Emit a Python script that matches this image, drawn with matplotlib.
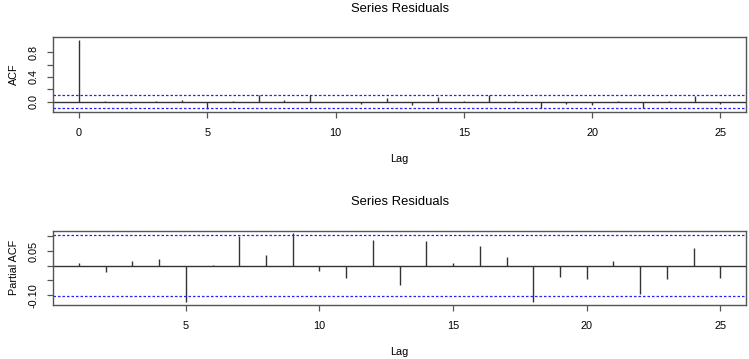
import numpy as np
import matplotlib
matplotlib.use("Agg")
import matplotlib.pyplot as plt

plt.rcParams['font.family'] = ['Liberation Sans', 'DejaVu Sans']

title = "Series Residuals"
n_obs = 360

acf_lags = list(range(0, 26))
acf_vals = [1.0, 0.008, -0.020, 0.012, 0.022, -0.125, 0.002, 0.100, 0.033, 0.100,
            -0.015, -0.035, 0.065, -0.058, 0.066, 0.010, 0.105, 0.008, -0.100,
            -0.040, -0.050, 0.010, -0.110, 0.008, 0.093, -0.040]

pacf_lags = list(range(1, 26))
pacf_vals = [0.008, -0.020, 0.016, 0.024, -0.124, 0.001, 0.101, 0.037, 0.110,
             -0.018, -0.041, 0.087, -0.067, 0.086, 0.011, 0.067, 0.031, -0.123,
             -0.038, -0.045, 0.016, -0.096, -0.045, 0.060, -0.042]

acf_yticks = [0.0, 0.2, 0.4, 0.6, 0.8]
acf_ylabels = ["0.0", "", "0.4", "", "0.8"]
pacf_yticks = [-0.10, -0.05, 0.0, 0.05, 0.10]
pacf_ylabels = ["-0.10", "", "", "0.05", ""]
acf_xticks = [0, 5, 10, 15, 20, 25]
pacf_xticks = [5, 10, 15, 20, 25]

clim = 1.96 / np.sqrt(n_obs)

W, H = 749, 359
fig = plt.figure(figsize=(W / 100, H / 100), dpi=100)

def px_axes(l, r, t, b):
    return fig.add_axes([l / W, 1 - b / H, (r - l) / W, (b - t) / H])

ax1 = px_axes(53.3, 746, 37.3, 112.0)
ax2 = px_axes(53.3, 746, 230.7, 305.0)

def rlim(lo, hi):
    e = 0.04 * (hi - lo)
    return lo - e, hi + e

bar_col = '#333333'
box_col = '#555555'
fs = 7.8

def style(ax, x, y, xticks, yticks, ylabels, ylab):
    ax.vlines(x, 0, y, colors=bar_col, linewidth=1.0)
    ax.axhline(0, color=bar_col, linewidth=1.0)
    for c in (clim, -clim):
        ax.axhline(c, color='#2222ff', linewidth=0.9, linestyle=(0, (2.0, 1.6)))
    ax.set_xlim(*rlim(min(x), max(x)))
    ax.set_ylim(*rlim(min(min(y), -clim), max(max(y), clim)))
    ax.set_xticks(xticks)
    ax.set_xticklabels([str(t) for t in xticks])
    ax.set_yticks(yticks)
    ax.set_yticklabels(ylabels, rotation=90, va='center')
    ax.tick_params(axis='both', length=4.3, width=0.9, color=box_col,
                   labelsize=fs)
    ax.tick_params(axis='x', pad=7)
    ax.tick_params(axis='y', pad=6.5)
    for s in ax.spines.values():
        s.set_color(box_col)
        s.set_linewidth(1.0)
    ax.set_xlabel("Lag", fontsize=fs, labelpad=11.5)
    ax.set_ylabel(ylab, fontsize=fs, labelpad=7)
    ax.set_title(title, fontsize=9.4, pad=18.5)

style(ax1, acf_lags, acf_vals, acf_xticks, acf_yticks, acf_ylabels, "ACF")
style(ax2, pacf_lags, pacf_vals, pacf_xticks, pacf_yticks, pacf_ylabels, "Partial ACF")

fig.savefig("out.png", dpi=100)
